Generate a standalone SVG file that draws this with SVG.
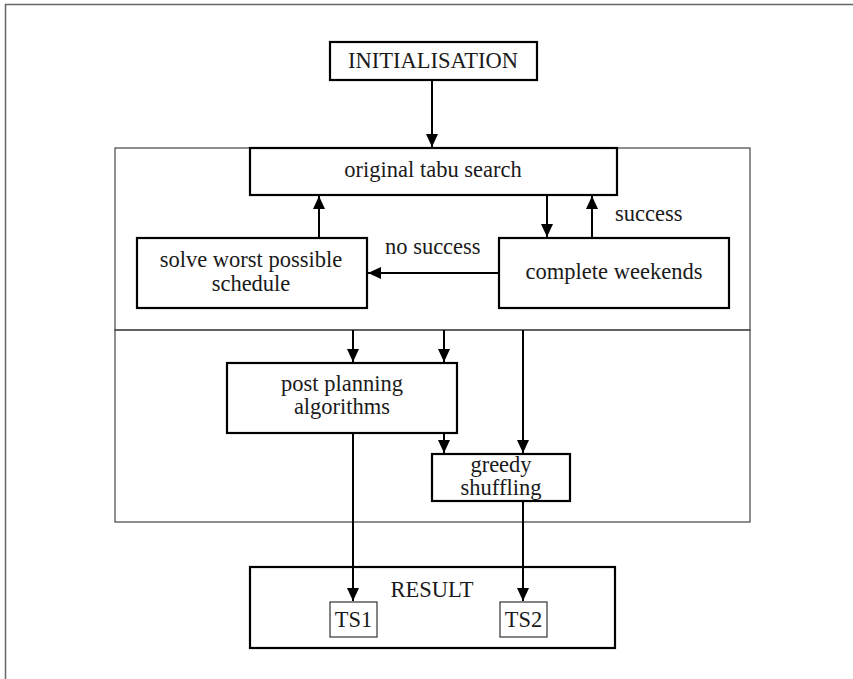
<svg xmlns="http://www.w3.org/2000/svg" width="853" height="679" viewBox="0 0 853 679" font-family="'Liberation Serif', 'DejaVu Serif', serif">
  <style>
    .frame { fill: none; stroke: #666; stroke-width: 1.5; }
    .section { fill: none; stroke: #444; stroke-width: 1.2; }
    .box { fill: #fff; stroke: #000; stroke-width: 2.2; }
    .small { fill: #fff; stroke: #333; stroke-width: 1.2; }
    .edge { fill: none; stroke: #000; stroke-width: 2; }
    .t { font-family: 'Liberation Serif', 'DejaVu Serif', serif; font-size: 22.5px; fill: #1a1a1a; text-anchor: middle; }
    .lbl { text-anchor: start; }
  </style>
  <defs>
    <marker id="arrow" markerUnits="userSpaceOnUse" markerWidth="14" markerHeight="12" viewBox="0 0 14 12" refX="13" refY="6" orient="auto">
      <path d="M0,0 L13,6 L0,12 Z" fill="#000"/>
    </marker>
  </defs>

  <rect width="853" height="679" fill="#fff"/>

  <!-- page frame -->
  <path class="frame" d="M5.5,679 V4.5 H853"/>

  <!-- phase sections -->
  <g id="phase-tabu">
    <rect class="section" x="115" y="148" width="635" height="182"/>
  </g>
  <g id="phase-post">
    <rect class="section" x="115" y="330" width="635" height="192"/>
  </g>

  <g id="initialisation">
    <rect class="box" x="330" y="42" width="207" height="38"/>
    <text class="t" x="433" y="68">INITIALISATION</text>
  </g>

  <g id="tabu-search">
    <rect class="box" x="250" y="148" width="367" height="47"/>
    <text class="t" x="433" y="177">original tabu search</text>
  </g>

  <g id="solve-worst">
    <rect class="box" x="137" y="238" width="230" height="70"/>
    <text class="t" x="251" y="267">solve worst possible</text>
    <text class="t" x="251" y="291">schedule</text>
  </g>

  <g id="complete-weekends">
    <rect class="box" x="499" y="238" width="230" height="70"/>
    <text class="t" x="614" y="279">complete weekends</text>
  </g>

  <g id="post-planning">
    <rect class="box" x="227" y="363" width="230" height="70"/>
    <text class="t" x="342" y="391">post planning</text>
    <text class="t" x="342" y="414">algorithms</text>
  </g>

  <g id="greedy-shuffling">
    <rect class="box" x="432" y="454" width="138" height="47"/>
    <text class="t" x="501" y="472">greedy</text>
    <text class="t" x="501" y="495">shuffling</text>
  </g>

  <g id="result">
    <rect class="box" x="250" y="567" width="365" height="81"/>
    <text class="t" x="432" y="597">RESULT</text>
  </g>

  <g id="ts1">
    <rect class="small" x="330" y="602" width="47" height="35"/>
    <text class="t" x="353.5" y="627">TS1</text>
  </g>

  <g id="ts2">
    <rect class="small" x="500" y="602" width="47" height="35"/>
    <text class="t" x="523.5" y="627">TS2</text>
  </g>

  <!-- connectors -->
  <g id="connectors">
    <path class="edge" d="M432,81 V147" marker-end="url(#arrow)"/>
    <path class="edge" d="M319,237 V196" marker-end="url(#arrow)"/>
    <path class="edge" d="M547,196 V237" marker-end="url(#arrow)"/>
    <path class="edge" d="M592,237 V196" marker-end="url(#arrow)"/>
    <path class="edge" d="M498,273 H368" marker-end="url(#arrow)"/>
    <path class="edge" d="M353,330 V362" marker-end="url(#arrow)"/>
    <path class="edge" d="M444,330 V362" marker-end="url(#arrow)"/>
    <path class="edge" d="M444,434 V453" marker-end="url(#arrow)"/>
    <path class="edge" d="M523,330 V453" marker-end="url(#arrow)"/>
    <path class="edge" d="M353,434 V601" marker-end="url(#arrow)"/>
    <path class="edge" d="M523,502 V601" marker-end="url(#arrow)"/>
    <text class="t lbl" x="385" y="254">no success</text>
    <text class="t lbl" x="615" y="221">success</text>
  </g>
</svg>
